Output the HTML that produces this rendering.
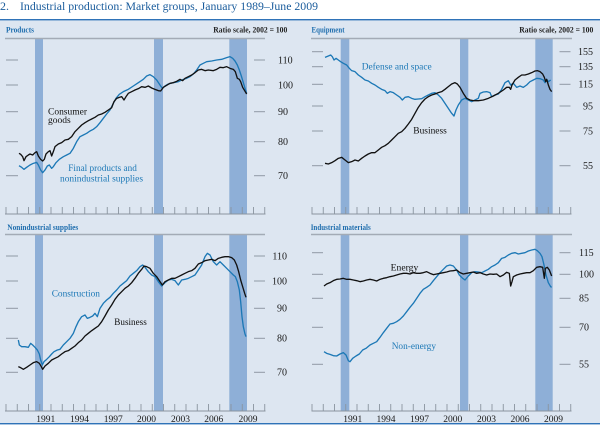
<!DOCTYPE html>
<html><head><meta charset="utf-8"><style>
html,body{margin:0;padding:0;background:#fff;}
svg{display:block;}
text{font-family:"Liberation Serif",serif;}
</style></head><body>
<svg width="600" height="427" viewBox="0 0 600 427" xmlns="http://www.w3.org/2000/svg">
<rect x="0" y="0" width="600" height="427" fill="#ffffff"/>
<rect x="0" y="20" width="600" height="403.5" fill="#dde6f1"/>
<rect x="0" y="19" width="600" height="1.4" fill="#2f73b8"/>
<rect x="0" y="423" width="600" height="1.4" fill="#2f73b8"/>
<text x="0" y="10" font-size="12" fill="#1a5c9c">2.</text>
<text x="20" y="10" font-size="12" fill="#1a5c9c" textLength="298" lengthAdjust="spacingAndGlyphs">Industrial production: Market groups, January 1989–June 2009</text>

<!-- recession bars -->
<g fill="#8eafd7">
<rect x="35" y="39" width="8" height="175"/>
<rect x="154" y="39" width="9" height="175"/>
<rect x="229.3" y="39" width="17.7" height="175"/>
<rect x="340.7" y="39" width="8.6" height="175"/>
<rect x="460" y="39" width="8.3" height="175"/>
<rect x="535.3" y="39" width="17.4" height="175"/>
<rect x="35" y="235" width="8" height="176"/>
<rect x="154" y="235" width="9" height="176"/>
<rect x="229.3" y="235" width="17.7" height="176"/>
<rect x="340.7" y="235" width="8.6" height="176"/>
<rect x="460" y="235" width="8.3" height="176"/>
<rect x="535.3" y="235" width="17.4" height="176"/>
</g>

<!-- header lines -->
<g stroke="#a3abb6" stroke-width="1.4">
<line x1="5" y1="38.5" x2="265" y2="38.5"/>
<line x1="311" y1="38.5" x2="572" y2="38.5"/>
<line x1="5" y1="234.5" x2="265" y2="234.5"/>
<line x1="311" y1="234.5" x2="572" y2="234.5"/>
</g>

<!-- headers -->
<g font-size="8" font-weight="bold" fill="#1f6eae">
<text x="6" y="32.5" textLength="28" lengthAdjust="spacingAndGlyphs">Products</text>
<text x="311.5" y="32.5" textLength="33" lengthAdjust="spacingAndGlyphs">Equipment</text>
<text x="7.3" y="230" textLength="71" lengthAdjust="spacingAndGlyphs">Nonindustrial supplies</text>
<text x="310.7" y="230" textLength="60" lengthAdjust="spacingAndGlyphs">Industrial materials</text>
</g>
<g font-size="8" font-weight="bold" fill="#222">
<text x="213.3" y="32.5" textLength="74" lengthAdjust="spacingAndGlyphs">Ratio scale, 2002 = 100</text>
<text x="519.3" y="32.5" textLength="74" lengthAdjust="spacingAndGlyphs">Ratio scale, 2002 = 100</text>
</g>

<!-- y ticks -->
<g stroke="#9099a5" stroke-width="1">
<!-- panel 1 -->
<line x1="6" x2="18" y1="60" y2="60"/><line x1="254" x2="265" y1="60" y2="60"/>
<line x1="6" x2="18" y1="85" y2="85"/><line x1="254" x2="265" y1="85" y2="85"/>
<line x1="6" x2="18" y1="111.7" y2="111.7"/><line x1="254" x2="265" y1="111.7" y2="111.7"/>
<line x1="6" x2="18" y1="141.7" y2="141.7"/><line x1="254" x2="265" y1="141.7" y2="141.7"/>
<line x1="6" x2="18" y1="175.7" y2="175.7"/><line x1="254" x2="265" y1="175.7" y2="175.7"/>
<!-- panel 2 -->
<line x1="312" x2="323" y1="51.7" y2="51.7"/><line x1="559.5" x2="570.5" y1="51.7" y2="51.7"/>
<line x1="312" x2="323" y1="66.7" y2="66.7"/><line x1="559.5" x2="570.5" y1="66.7" y2="66.7"/>
<line x1="312" x2="323" y1="84.3" y2="84.3"/><line x1="559.5" x2="570.5" y1="84.3" y2="84.3"/>
<line x1="312" x2="323" y1="106" y2="106"/><line x1="559.5" x2="570.5" y1="106" y2="106"/>
<line x1="312" x2="323" y1="131" y2="131"/><line x1="559.5" x2="570.5" y1="131" y2="131"/>
<line x1="312" x2="323" y1="165.7" y2="165.7"/><line x1="559.5" x2="570.5" y1="165.7" y2="165.7"/>
<!-- panel 3 -->
<line x1="6" x2="18" y1="256" y2="256"/><line x1="254" x2="265" y1="256" y2="256"/>
<line x1="6" x2="18" y1="281" y2="281"/><line x1="254" x2="265" y1="281" y2="281"/>
<line x1="6" x2="18" y1="308.3" y2="308.3"/><line x1="254" x2="265" y1="308.3" y2="308.3"/>
<line x1="6" x2="18" y1="338.3" y2="338.3"/><line x1="254" x2="265" y1="338.3" y2="338.3"/>
<line x1="6" x2="18" y1="372.3" y2="372.3"/><line x1="254" x2="265" y1="372.3" y2="372.3"/>
<!-- panel 4 -->
<line x1="312" x2="323" y1="252.7" y2="252.7"/><line x1="559.5" x2="570.5" y1="252.7" y2="252.7"/>
<line x1="312" x2="323" y1="274.3" y2="274.3"/><line x1="559.5" x2="570.5" y1="274.3" y2="274.3"/>
<line x1="312" x2="323" y1="298.3" y2="298.3"/><line x1="559.5" x2="570.5" y1="298.3" y2="298.3"/>
<line x1="312" x2="323" y1="327.3" y2="327.3"/><line x1="559.5" x2="570.5" y1="327.3" y2="327.3"/>
<line x1="312" x2="323" y1="364.3" y2="364.3"/><line x1="559.5" x2="570.5" y1="364.3" y2="364.3"/>
</g>

<!-- y labels -->
<g font-size="10" fill="#1a1a1a">
<text x="278" y="63.3">110</text>
<text x="278" y="88.3">100</text>
<text x="278" y="115">90</text>
<text x="278" y="145">80</text>
<text x="278" y="179">70</text>
</g>
<g font-size="10" fill="#1a1a1a" text-anchor="end">
<text x="593" y="55">155</text>
<text x="593" y="70">135</text>
<text x="593" y="87.6">115</text>
<text x="593" y="109.3">95</text>
<text x="593" y="134.3">75</text>
<text x="593" y="169">55</text>
<text x="287" y="259.3">110</text>
<text x="287" y="284.3">100</text>
<text x="287" y="311.6">90</text>
<text x="287" y="341.6">80</text>
<text x="287" y="375.6">70</text>
</g>
<g font-size="10" fill="#1a1a1a">
<text x="579" y="256">115</text>
<text x="579" y="277.6">100</text>
<text x="579" y="301.6">85</text>
<text x="579" y="330.6">70</text>
<text x="579" y="367.6">55</text>
</g>

<!-- x axes -->
<g stroke="#8a949f" stroke-width="1">
<line x1="5" y1="214" x2="265.5" y2="214"/>
<line x1="311.5" y1="214" x2="571.5" y2="214"/>
<line x1="5" y1="411" x2="265.5" y2="411"/>
<line x1="311.5" y1="411" x2="571.5" y2="411"/>
</g>
<g stroke="#8a949f" stroke-width="0.9" id="ticks">
<path d="M6 207V214M17.25 207V214M28.5 207V214M39.75 207V214M51 207V214M62.25 207V214M73.5 207V214M84.75 207V214M96 207V214M107.25 207V214M118.5 207V214M129.75 207V214M141 207V214M152.25 207V214M163.5 207V214M174.75 207V214M186 207V214M197.25 207V214M208.5 207V214M219.75 207V214M231 207V214M242.25 207V214M253.5 207V214M264.75 207V214"/>
<path transform="translate(306,0)" d="M6 207V214M17.25 207V214M28.5 207V214M39.75 207V214M51 207V214M62.25 207V214M73.5 207V214M84.75 207V214M96 207V214M107.25 207V214M118.5 207V214M129.75 207V214M141 207V214M152.25 207V214M163.5 207V214M174.75 207V214M186 207V214M197.25 207V214M208.5 207V214M219.75 207V214M231 207V214M242.25 207V214M253.5 207V214M264.75 207V214"/>
<path transform="translate(0,197)" d="M6 207V214M17.25 207V214M28.5 207V214M39.75 207V214M51 207V214M62.25 207V214M73.5 207V214M84.75 207V214M96 207V214M107.25 207V214M118.5 207V214M129.75 207V214M141 207V214M152.25 207V214M163.5 207V214M174.75 207V214M186 207V214M197.25 207V214M208.5 207V214M219.75 207V214M231 207V214M242.25 207V214M253.5 207V214M264.75 207V214"/>
<path transform="translate(306,197)" d="M6 207V214M17.25 207V214M28.5 207V214M39.75 207V214M51 207V214M62.25 207V214M73.5 207V214M84.75 207V214M96 207V214M107.25 207V214M118.5 207V214M129.75 207V214M141 207V214M152.25 207V214M163.5 207V214M174.75 207V214M186 207V214M197.25 207V214M208.5 207V214M219.75 207V214M231 207V214M242.25 207V214M253.5 207V214M264.75 207V214"/>
</g>

<!-- year labels -->
<g font-size="9.5" fill="#1a1a1a" text-anchor="middle">
<text x="45.8" y="422">1991</text><text x="79.5" y="422">1994</text><text x="113.3" y="422">1997</text><text x="146.5" y="422">2000</text><text x="180.5" y="422">2003</text><text x="213.8" y="422">2006</text><text x="248" y="422">2009</text>
<text x="352.8" y="422">1991</text><text x="386" y="422">1994</text><text x="419.5" y="422">1997</text><text x="452.8" y="422">2000</text><text x="486.5" y="422">2003</text><text x="520" y="422">2006</text><text x="553.5" y="422">2009</text>
</g>

<!-- Panel 1: Products -->
<g transform="translate(0,0) scale(0.33333)" fill="none" stroke-linejoin="round" stroke-width="4">
<polyline stroke="#1c78b6" points="57,497 65,502 72,508 80,502 90,495 100,490 110,487 115,495 122,510 128,518 135,510 142,498 148,495 155,505 160,500 168,488 178,478 190,470 200,465 210,460 220,445 230,425 240,410 250,405 260,400 270,393 280,388 290,380 300,368 310,355 320,342 330,330 340,310 348,295 358,283 370,275 385,268 400,258 415,248 430,238 440,228 450,224 460,230 470,240 480,255 487,265 495,258 505,252 520,248 535,245 550,238 560,235 570,230 580,222 590,210 600,195 610,190 620,185 635,183 650,180 665,178 680,173 690,170 698,175 705,183 712,195 718,210 724,228 730,248 736,268 740,280"/>
<polyline stroke="#111" points="57,460 62,463 68,470 72,482 78,470 85,465 90,462 98,465 105,458 110,455 115,468 122,478 128,483 133,478 138,462 145,455 150,452 155,468 160,455 165,440 175,432 185,428 195,420 205,418 215,410 225,395 235,385 245,375 255,368 265,362 275,357 285,352 295,345 305,342 315,337 325,330 335,323 342,305 350,295 358,292 365,290 372,300 378,290 385,280 395,275 405,270 415,266 425,260 435,262 445,258 455,264 465,268 475,272 482,273 490,262 500,256 510,250 520,248 530,244 540,238 548,242 555,235 565,230 575,225 585,218 595,210 605,208 615,212 625,210 640,212 650,208 660,202 670,203 680,200 690,205 700,208 706,215 712,235 718,238 722,245 728,262 734,272 740,282"/>
</g>
<g font-size="9.5" fill="#111">
<text x="48" y="114.5" textLength="39" lengthAdjust="spacingAndGlyphs">Consumer</text>
<text x="48" y="122.8">goods</text>
</g>
<g font-size="9.5" fill="#1c78b6">
<text x="68.3" y="171" textLength="68.5" lengthAdjust="spacingAndGlyphs">Final products and</text>
<text x="60" y="181.5" textLength="83" lengthAdjust="spacingAndGlyphs">nonindustrial supplies</text>
</g>

<!-- Panel 2: Equipment -->
<g transform="translate(300,0) scale(0.33333)" fill="none" stroke-linejoin="round" stroke-width="4">
<polyline stroke="#1c78b6" points="75,172 85,168 92,165 97,170 102,180 108,175 115,180 122,185 130,190 140,195 148,205 155,212 165,215 175,225 185,232 195,240 205,243 215,250 225,255 235,262 245,268 255,272 262,280 270,275 280,278 290,285 300,292 307,300 315,292 325,290 335,295 345,298 355,297 365,296 375,290 385,285 395,280 405,278 415,285 425,295 435,310 445,325 455,340 462,348 468,330 475,315 485,300 495,295 505,300 515,305 525,300 535,295 540,280 550,276 560,275 570,278 575,290 585,285 595,282 605,268 615,248 625,242 632,255 640,250 650,262 660,258 670,262 680,255 690,245 700,240 710,235 720,236 730,240 735,248 740,238 745,245 752,240"/>
<polyline stroke="#111" points="75,490 85,492 95,488 105,482 115,475 125,472 135,480 145,488 155,485 165,480 175,483 185,475 195,468 205,462 215,458 225,458 235,450 245,442 255,437 265,430 275,420 285,410 295,400 305,395 315,385 325,372 335,358 345,340 355,322 365,308 375,297 385,290 395,285 405,282 415,278 425,275 435,268 445,260 455,252 465,248 472,252 480,262 490,280 500,295 510,300 520,302 535,302 550,300 565,295 580,288 595,280 610,270 620,262 628,262 632,268 636,255 645,240 655,232 665,225 675,225 685,222 695,218 705,213 712,212 720,215 728,222 733,232 737,245 740,238 745,255 750,268 755,275"/>
</g>
<text x="361.7" y="69.3" font-size="9.5" fill="#1c78b6" textLength="70" lengthAdjust="spacingAndGlyphs">Defense and space</text>
<text x="413.3" y="133.7" font-size="9.5" fill="#111" textLength="33.5" lengthAdjust="spacingAndGlyphs">Business</text>

<!-- Panel 3: Nonindustrial supplies -->
<g transform="translate(0,210) scale(0.33333)" fill="none" stroke-linejoin="round" stroke-width="4">
<polyline stroke="#1c78b6" points="55,390 58,405 65,410 75,410 85,412 92,400 98,405 105,412 112,420 118,432 122,450 127,465 132,455 140,448 148,440 155,432 162,425 172,420 180,418 190,405 200,395 210,385 220,370 228,350 235,335 245,320 255,315 262,325 270,322 278,318 285,310 292,320 300,295 310,280 320,270 330,262 340,250 350,240 360,228 370,220 380,212 390,198 400,190 410,182 420,170 428,165 435,172 445,185 455,195 465,200 475,215 485,228 495,218 505,210 515,208 525,212 535,225 545,210 555,208 565,205 575,200 585,195 595,180 605,165 615,140 622,130 630,135 640,155 650,165 660,155 670,165 680,175 690,185 700,195 706,200 712,215 718,240 722,275 726,320 730,350 735,372 738,380"/>
<polyline stroke="#111" points="55,470 60,472 65,475 70,478 80,472 90,465 100,458 110,455 118,460 124,470 128,478 135,468 145,460 155,450 165,445 175,440 185,432 195,425 205,422 215,415 225,408 235,398 245,390 255,378 265,370 275,362 285,355 295,348 305,335 315,318 325,300 335,285 345,268 355,255 365,245 375,235 385,228 395,218 405,205 415,190 425,178 432,168 440,170 450,175 460,190 470,200 480,215 487,225 495,215 505,210 515,205 525,205 535,200 545,195 555,190 565,185 575,182 585,175 595,162 605,158 615,152 625,150 635,148 645,152 655,145 665,142 675,140 685,140 695,143 703,150 710,165 716,185 722,210 728,230 734,250 738,262"/>
</g>
<text x="51.7" y="296.7" font-size="9.5" fill="#1c78b6" textLength="48.3" lengthAdjust="spacingAndGlyphs">Construction</text>
<text x="114.3" y="325" font-size="9.5" fill="#111" textLength="32.5" lengthAdjust="spacingAndGlyphs">Business</text>

<!-- Panel 4: Industrial materials -->
<g transform="translate(300,210) scale(0.33333)" fill="none" stroke-linejoin="round" stroke-width="4">
<polyline stroke="#1c78b6" points="72,425 80,430 90,433 100,437 110,438 120,432 130,428 138,435 145,452 150,455 158,445 168,438 178,432 188,420 198,415 210,405 220,400 230,395 240,382 250,368 260,355 270,342 280,340 290,335 300,328 310,318 320,305 330,292 340,280 350,265 360,250 370,238 380,232 390,225 400,212 410,200 420,188 430,178 440,168 450,165 460,168 470,180 478,195 488,205 495,210 505,198 515,188 525,185 535,186 545,188 555,183 565,178 575,170 585,165 595,158 605,145 615,142 625,135 635,130 645,128 655,132 665,130 675,128 685,123 695,120 705,118 712,122 720,130 726,140 732,165 738,195 745,218 752,230 755,232"/>
<polyline stroke="#111" points="72,228 80,222 90,218 100,212 110,208 120,207 130,205 140,208 150,208 160,210 170,212 180,215 190,213 200,210 210,208 220,210 230,213 240,208 250,205 260,203 270,200 280,198 290,195 300,192 310,190 320,190 330,192 340,188 350,190 360,190 370,188 380,185 390,190 400,194 410,192 420,190 430,188 440,186 450,183 460,182 470,180 480,188 490,192 500,190 510,188 520,186 530,190 540,188 550,192 560,195 570,192 580,193 590,192 600,200 610,195 620,187 628,190 632,228 636,215 640,200 650,195 660,192 670,190 680,188 690,188 700,182 710,172 720,170 728,172 733,205 736,175 742,172 748,180 755,198"/>
</g>
<text x="390.7" y="270.7" font-size="9.5" fill="#111" textLength="27.6" lengthAdjust="spacingAndGlyphs">Energy</text>
<text x="391.7" y="349" font-size="9.5" fill="#1c78b6" textLength="44.3" lengthAdjust="spacingAndGlyphs">Non-energy</text>
</svg>
</body></html>
